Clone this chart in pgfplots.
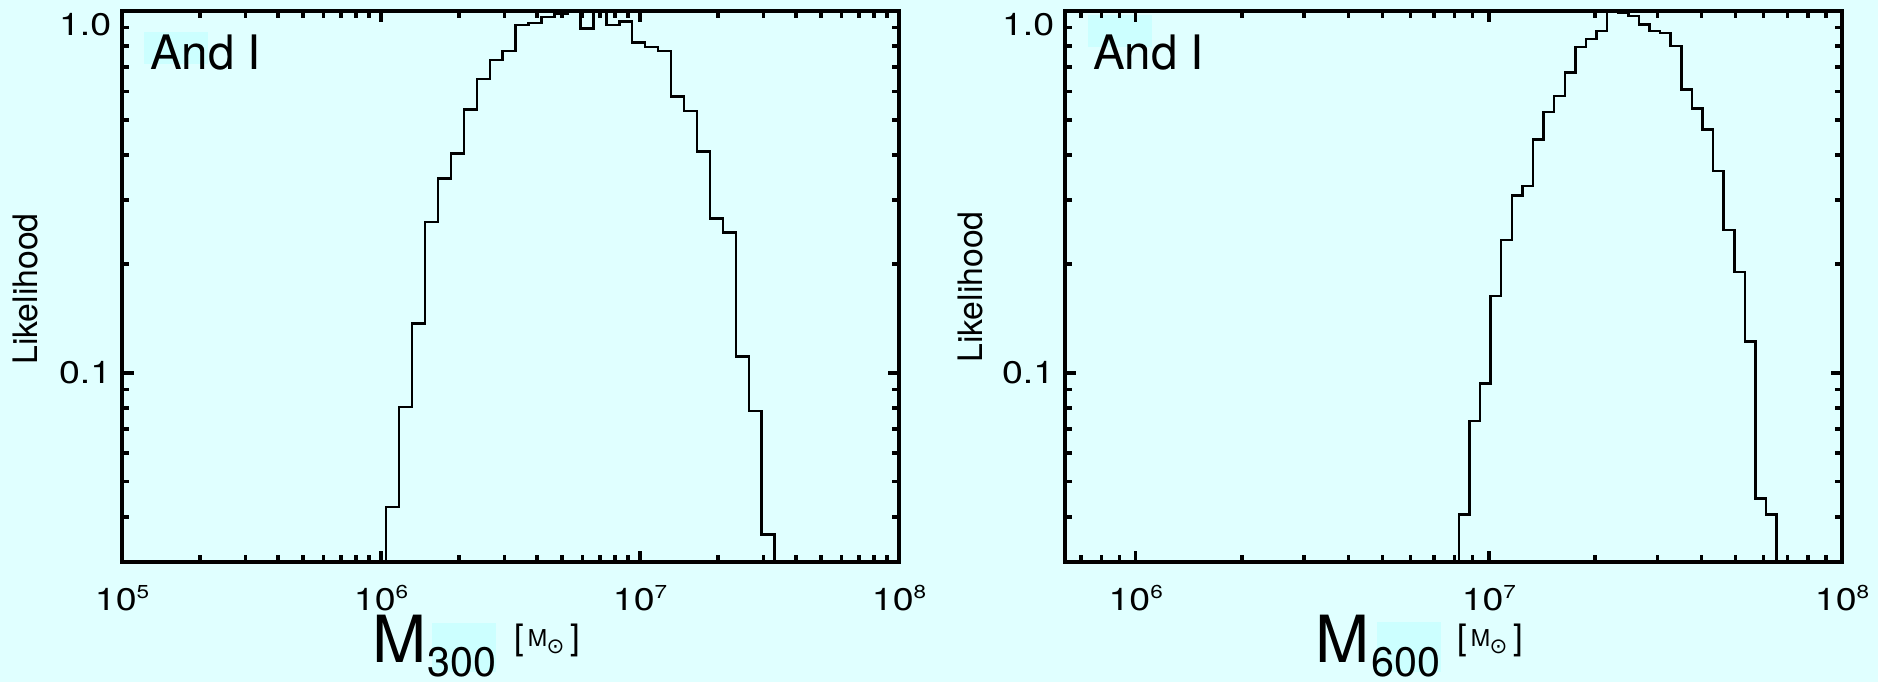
\documentclass[border=0pt]{standalone}
\usepackage{pgfplots}
\pgfplotsset{compat=1.18}
\usepackage{fontspec}
\setmainfont{TeX Gyre Heros}
\newfontfamily\tickfont{TeX Gyre Heros}[FakeStretch=1.2]
\newfontfamily\dejavu{DejaVu Sans}
\definecolor{bgcyan}{RGB}{224,255,255}
\definecolor{hlcyan}{RGB}{204,255,255}
\newcommand{\tp}[1]{10\raisebox{4.8pt}{\fontsize{7.5}{7.5}\selectfont #1}}
\pgfplotsset{idl/.style={
  scale only axis, width=310.8pt, height=220.4pt,
  ymin=0.03, ymax=1,
  axis line style={line width=1.8pt},
  tick align=inside,
  major tick length=4.6pt, minor tick length=2.8pt,
  tick style={black, line width=1.4pt},
  tick label style={font=\tickfont\fontsize{12.5}{12.5}\selectfont},
  ytick={0.1}, yticklabels={0.1},
  minor ytick={0.04,0.05,0.06,0.07,0.08,0.09,0.2,0.3,0.4,0.5,0.6,0.7,0.8,0.9},
  extra y ticks={1}, extra y tick labels={1.0},
  extra y tick style={yticklabel style={yshift=-5.6pt}},
  xticklabel style={anchor=base, yshift=-19.2pt},
  yticklabel style={xshift=-0.8pt},
}}
\begin{document}
\begin{tikzpicture}
\useasboundingbox (0,0) rectangle (751.2pt,272.8pt);
\fill[bgcyan] (0,0) rectangle (751.2pt,272.8pt);
\fill[hlcyan] (57.6pt,247.2pt) rectangle (83.2pt,260pt);
\fill[hlcyan] (435.2pt,254pt) rectangle (460.8pt,266.8pt);
\fill[hlcyan] (172.7pt,4pt) rectangle (198.4pt,23.6pt);
\fill[hlcyan] (550.7pt,4pt) rectangle (576.4pt,24pt);

\begin{loglogaxis}[idl, at={(48.8pt,48pt)}, anchor=south west,
  xmin=1e5, xmax=1e8,
  xtick={1e5,1e6,1e7,1e8},
  xticklabels={\tp{5},\tp{6},\tp{7},\tp{8}},
  minor xtick={2e5,3e5,4e5,5e5,6e5,7e5,8e5,9e5,2e6,3e6,4e6,5e6,6e6,7e6,8e6,9e6,2e7,3e7,4e7,5e7,6e7,7e7,8e7,9e7}]
\addplot[const plot, black, line width=1pt] coordinates {
(1.0471e6,0.03) (1.0471e6,0.0426) (1.1749e6,0.0804) (1.3183e6,0.137) (1.4791e6,0.261)
(1.6596e6,0.344) (1.8621e6,0.404) (2.0893e6,0.535) (2.3442e6,0.648) (2.6303e6,0.732)
(2.9512e6,0.776) (3.3113e6,0.915) (3.7154e6,0.925) (4.1687e6,0.961) (4.6774e6,0.981)
(5.2481e6,1.0) (5.8884e6,0.895) (6.6069e6,1.0) (7.4131e6,0.915) (8.3176e6,0.934)
(9.3325e6,0.819) (1.0471e7,0.796) (1.1749e7,0.776) (1.3183e7,0.580) (1.4791e7,0.530)
(1.6596e7,0.409) (1.8621e7,0.267) (2.0893e7,0.244) (2.3442e7,0.111) (2.6303e7,0.0785)
(2.9512e7,0.0357) (3.3113e7,0.0357) (3.3113e7,0.03)
};
\end{loglogaxis}

\begin{loglogaxis}[idl, at={(426pt,48pt)}, anchor=south west,
  xmin=6.31e5, xmax=1e8,
  xtick={1e6,1e7,1e8},
  xticklabels={\tp{6},\tp{7},\tp{8}},
  minor xtick={7e5,8e5,9e5,2e6,3e6,4e6,5e6,6e6,7e6,8e6,9e6,2e7,3e7,4e7,5e7,6e7,7e7,8e7,9e7}]
\addplot[const plot, black, line width=1pt] coordinates {
(8.2224e6,0.03) (8.2224e6,0.0406) (8.8105e6,0.0736) (9.4406e6,0.0934) (1.0116e7,0.163)
(1.0839e7,0.233) (1.1614e7,0.309) (1.2445e7,0.328) (1.3335e7,0.441) (1.4289e7,0.525)
(1.5311e7,0.583) (1.6406e7,0.676) (1.7579e7,0.796) (1.8836e7,0.836) (2.0184e7,0.880)
(2.1627e7,1.0) (2.3174e7,0.99) (2.4831e7,0.969) (2.6607e7,0.919) (2.8510e7,0.880)
(3.0549e7,0.868) (3.2734e7,0.800) (3.5075e7,0.607) (3.7584e7,0.538) (4.0272e7,0.470)
(4.3152e7,0.361) (4.6238e7,0.248) (4.9545e7,0.190) (5.3088e7,0.122) (5.6885e7,0.0450)
(6.0954e7,0.0406) (6.5313e7,0.0406) (6.5313e7,0.03)
};
\end{loglogaxis}

\node[anchor=base west, inner sep=0, font=\fontsize{19}{19}\selectfont] at (59.8pt,244.8pt) {And I};
\node[anchor=base west, inner sep=0, font=\fontsize{19}{19}\selectfont] at (437.1pt,244.8pt) {And I};
\node[rotate=90, inner sep=0, font=\fontsize{13.5}{13.5}\selectfont] at (10pt,157.2pt) {Likelihood};
\node[rotate=90, inner sep=0, font=\fontsize{13.5}{13.5}\selectfont] at (388pt,158pt) {Likelihood};

% x-axis labels (left)
\node[inner sep=0, font=\fontsize{26}{26}\selectfont] at (159.7pt,17.4pt) {M};
\node[inner sep=0, font=\fontsize{16.5}{16.5}\selectfont] at (184.8pt,8.1pt) {300};
\node[inner sep=0, font=\fontsize{14}{14}\selectfont] at (207.6pt,16.7pt) {[};
\node[inner sep=0, font=\fontsize{9.3}{9.3}\selectfont] at (215pt,17.5pt) {M};
\node[inner sep=0, font=\dejavu\fontsize{8.5}{8.5}\selectfont] at (222.2pt,14pt) {⊙};
\node[inner sep=0, font=\fontsize{14}{14}\selectfont] at (230pt,16.7pt) {]};
% x-axis labels (right)
\node[inner sep=0, font=\fontsize{26}{26}\selectfont] at (537.1pt,17.4pt) {M};
\node[inner sep=0, font=\fontsize{16.5}{16.5}\selectfont] at (562.4pt,8.1pt) {600};
\node[inner sep=0, font=\fontsize{14}{14}\selectfont] at (584.8pt,16.7pt) {[};
\node[inner sep=0, font=\fontsize{9.3}{9.3}\selectfont] at (592.2pt,17.5pt) {M};
\node[inner sep=0, font=\dejavu\fontsize{8.5}{8.5}\selectfont] at (599.4pt,14pt) {⊙};
\node[inner sep=0, font=\fontsize{14}{14}\selectfont] at (607.2pt,16.7pt) {]};
\end{tikzpicture}
\end{document}
